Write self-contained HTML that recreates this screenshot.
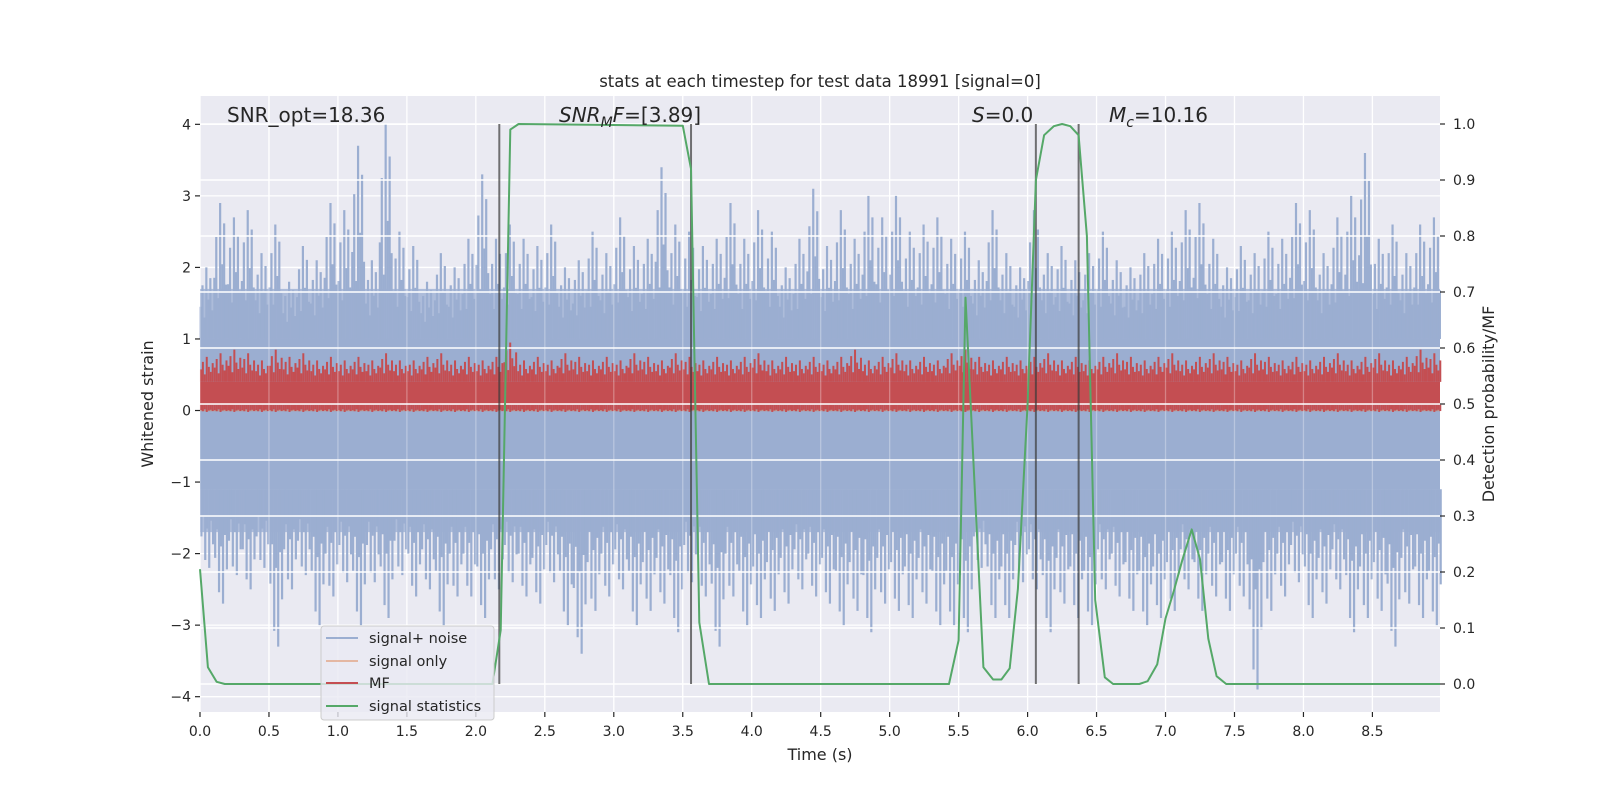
<!DOCTYPE html>
<html><head><meta charset="utf-8">
<style>
html,body{margin:0;padding:0;background:#fff;}
svg{display:block;font-family:"DejaVu Sans","Liberation Sans",sans-serif;}
</style></head>
<body>
<svg id="chart" width="1600" height="800" viewBox="0 0 1600 800" xmlns="http://www.w3.org/2000/svg">
  <rect x="0" y="0" width="1600" height="800" fill="#ffffff"/>
  <rect x="200" y="96" width="1240" height="616" fill="#eaeaf2"/>
  <g id="under"></g>
  <g id="marks"></g>
  <g id="over"></g>
  <g id="green"></g>
  <g id="axes"></g>
  <text x="820" y="87" text-anchor="middle" font-size="16.5" fill="#262626">stats at each timestep for test data 18991 [signal=0]</text>
  <text x="227" y="122" font-size="20" fill="#262626">SNR_opt=18.36</text>
  <text x="559" y="122" font-size="20" fill="#262626"><tspan font-style="italic">SNR</tspan><tspan font-style="italic" font-size="14" dy="5">M</tspan><tspan font-style="italic" dy="-5">F</tspan>=[3.89]</text>
  <text x="972" y="122" font-size="20" fill="#262626"><tspan font-style="italic">S</tspan>=0.0</text>
  <text x="1109" y="122" font-size="20" fill="#262626"><tspan font-style="italic">M</tspan><tspan font-style="italic" font-size="14" dy="5">c</tspan><tspan dy="-5">=10.16</tspan></text>
  <text x="820" y="760" text-anchor="middle" font-size="16" fill="#262626">Time (s)</text>
  <text x="0" y="0" transform="translate(153,404) rotate(-90)" text-anchor="middle" font-size="16" fill="#262626">Whitened strain</text>
  <text x="0" y="0" transform="translate(1494,404) rotate(-90)" text-anchor="middle" font-size="16" fill="#262626">Detection probability/MF</text>
  <g id="legend">
    <rect x="321" y="626" width="173" height="94" rx="3" fill="#eaeaf2" fill-opacity="0.8" stroke="#cccccc"/>
    <line x1="326" y1="638" x2="358" y2="638" stroke="#4c72b0" stroke-opacity="0.5" stroke-width="2"/>
    <text x="369" y="643" font-size="14.5" fill="#262626">signal+ noise</text>
    <line x1="326" y1="661" x2="358" y2="661" stroke="#dd8452" stroke-opacity="0.5" stroke-width="2"/>
    <text x="369" y="666" font-size="14.5" fill="#262626">signal only</text>
    <line x1="326" y1="683" x2="358" y2="683" stroke="#c44e52" stroke-width="2"/>
    <text x="369" y="688" font-size="14.5" fill="#262626">MF</text>
    <line x1="326" y1="706" x2="358" y2="706" stroke="#55a868" stroke-width="2"/>
    <text x="369" y="711" font-size="14.5" fill="#262626">signal statistics</text>
  </g>
</svg>
<script>
// ---- data ----
const binTimes = [0.0,0.1,0.2,0.3,0.4,0.5,0.6,0.7,0.8,0.9,1.0,1.1,1.2,1.3,1.4,1.5,1.6,1.7,1.8,1.9,2.0,2.1,2.2,2.3,2.4,2.5,2.6,2.7,2.8,2.9,3.0,3.1,3.2,3.3,3.4,3.5,3.6,3.7,3.8,3.9,4.0,4.1,4.2,4.3,4.4,4.5,4.6,4.7,4.8,4.9,5.0,5.1,5.2,5.3,5.4,5.5,5.6,5.7,5.8,5.9,6.0,6.1,6.2,6.3,6.4,6.5,6.6,6.7,6.8,6.9,7.0,7.1,7.2,7.3,7.4,7.5,7.6,7.7,7.8,7.9,8.0,8.1,8.2,8.3,8.4,8.5,8.6,8.7,8.8,8.9];
const noiseUpper = [2.0,2.9,2.7,2.8,2.2,2.6,1.8,2.3,2.1,2.9,2.8,3.7,2.1,4.0,2.5,2.3,1.8,2.2,2.0,2.4,3.3,2.4,2.6,2.4,2.3,2.6,2.0,2.1,2.5,2.2,2.7,2.3,2.4,3.4,2.6,2.5,2.3,2.4,2.9,2.4,2.8,2.5,2.0,2.4,3.1,2.3,2.8,2.4,3.0,2.7,3.0,2.5,2.6,2.7,2.4,2.5,2.1,2.8,2.2,2.0,2.8,2.2,2.3,2.1,2.2,2.5,2.1,2.0,2.2,2.4,2.5,2.8,2.9,2.4,2.0,2.3,2.2,2.5,2.4,2.9,2.8,2.2,2.7,3.0,3.6,2.4,2.6,2.2,2.6,2.7];
const noiseLower = [-2.2,-2.7,-2.3,-2.5,-2.2,-3.3,-2.5,-2.3,-3.0,-2.6,-2.4,-3.0,-2.4,-2.9,-2.3,-2.6,-2.5,-3.0,-2.6,-2.6,-2.9,-2.5,-2.4,-2.6,-2.7,-2.4,-3.0,-3.4,-2.8,-2.6,-2.5,-3.0,-2.8,-2.7,-3.1,-2.4,-2.6,-3.3,-2.6,-3.0,-2.9,-2.8,-2.7,-2.5,-2.6,-2.7,-3.0,-2.8,-3.1,-2.7,-2.8,-2.9,-2.7,-3.0,-3.0,-3.1,-2.2,-2.9,-2.9,-2.4,-2.5,-3.1,-2.7,-2.9,-3.0,-2.5,-2.6,-2.8,-3.0,-2.9,-2.8,-2.5,-2.8,-2.6,-2.8,-2.6,-3.9,-2.8,-2.6,-2.4,-2.9,-2.7,-2.5,-3.1,-2.9,-2.8,-3.3,-2.7,-2.9,-3.0];
const mfPeaks = [0.75,0.8,0.85,0.8,0.7,0.85,0.75,0.8,0.7,0.75,0.7,0.75,0.7,0.8,0.7,0.7,0.75,0.8,0.7,0.75,0.7,0.75,0.95,0.7,0.75,0.7,0.8,0.75,0.7,0.75,0.7,0.8,0.75,0.7,0.8,0.75,0.7,0.75,0.7,0.75,0.8,0.7,0.75,0.7,0.75,0.7,0.75,0.85,0.7,0.75,0.8,0.7,0.75,0.7,0.8,0.85,0.75,0.7,0.75,0.7,0.75,0.8,0.7,0.75,0.7,0.75,0.8,0.75,0.7,0.75,0.8,0.7,0.75,0.8,0.75,0.7,0.8,0.75,0.7,0.75,0.7,0.75,0.8,0.7,0.75,0.8,0.7,0.75,0.85,0.8];
const coreUpper = 1.0, coreLower = -1.1, midUpper = 1.7, midLower = -1.7;
const mfLow = 0.08, mfHigh = 0.4;
const statTimes = [0,0.057,0.12,0.18,2.12,2.18,2.25,2.31,3.5,3.56,3.62,3.69,5.43,5.5,5.55,5.68,5.75,5.81,5.87,5.93,6.0,6.06,6.12,6.19,6.25,6.31,6.37,6.43,6.49,6.56,6.62,6.81,6.87,6.94,7.0,7.06,7.12,7.19,7.25,7.31,7.37,7.44,8.99];
const statProb = [0.205,0.03,0.004,0.0,0.0,0.096,0.99,1.0,0.997,0.92,0.11,0.0,0.0,0.078,0.69,0.03,0.008,0.008,0.028,0.17,0.5,0.9,0.98,0.996,1.0,0.996,0.98,0.8,0.15,0.012,0.0,0.0,0.005,0.035,0.117,0.166,0.22,0.276,0.223,0.081,0.014,0.0,0.0];
const markerTimes = [2.17,3.56,6.06,6.37];
const xTicks = [0,0.5,1,1.5,2,2.5,3,3.5,4,4.5,5,5.5,6,6.5,7,7.5,8,8.5];
const xTickLabels = ["0.0","0.5","1.0","1.5","2.0","2.5","3.0","3.5","4.0","4.5","5.0","5.5","6.0","6.5","7.0","7.5","8.0","8.5"];
const yLeftTicks = [-4,-3,-2,-1,0,1,2,3,4];
const yLeftLabels = ["\u22124","\u22123","\u22122","\u22121","0","1","2","3","4"];
const yRightTicks = [0,0.1,0.2,0.3,0.4,0.5,0.6,0.7,0.8,0.9,1.0];
const yRightLabels = ["0.0","0.1","0.2","0.3","0.4","0.5","0.6","0.7","0.8","0.9","1.0"];

// ---- rendering style (texture pattern, not data) ----
const spikeOffsets = [0.0,0.014,0.028,0.042,0.057,0.071,0.085];
const spikeFracUp  = [0.45,0.75,0.3,1.0,0.55,0.85,0.4];
const spikeFracDn  = [0.6,0.35,0.9,0.5,1.0,0.4,0.7];
const mfFrac = [0.5,0.8,0.3,1.0,0.6,0.4,0.75];

// ---- scales ----
const X0=200, X1=1440, Y0=96, Y1=712;
const xMin=0, xMax=8.99;
const lMin=-4.214, lMax=4.396;
const rMin=-0.05, rMax=1.05;
const xs = t => X0 + (t-xMin)/(xMax-xMin)*(X1-X0);
const yl = v => Y1 - (v-lMin)/(lMax-lMin)*(Y1-Y0);
const yr = v => Y1 - (v-rMin)/(rMax-rMin)*(Y1-Y0);
const NS='http://www.w3.org/2000/svg';
function mk(tag, attrs, parent){const e=document.createElementNS(NS,tag);for(const k in attrs)e.setAttribute(k,attrs[k]);parent.appendChild(e);return e;}
const under=document.getElementById('under'), marks=document.getElementById('marks'), over=document.getElementById('over'), green=document.getElementById('green'), axes=document.getElementById('axes');

xTicks.forEach(t=>{const l=mk('line',{x1:xs(t),x2:xs(t),y1:Y0,y2:Y1,stroke:'#fff','stroke-width':1.3},under);

});
yLeftTicks.forEach(v=>{const l=mk('line',{x1:X0,x2:X1,y1:yl(v),y2:yl(v),stroke:'#fff','stroke-width':1.3},under);

});

const tEnd = xMax;
const mid = mk('rect',{x:xs(0),y:yl(midUpper),width:xs(tEnd)-xs(0),height:yl(midLower)-yl(midUpper),fill:'#adbcda'},marks);


const core = mk('rect',{x:xs(0),y:yl(coreUpper),width:xs(tEnd)-xs(0),height:yl(coreLower)-yl(coreUpper),fill:'#9baed1'},marks);


binTimes.forEach((t,i)=>{
  spikeOffsets.forEach((o,j)=>{
    const tx=t+o+0.004;
    const hu = coreUpper + (noiseUpper[i]-coreUpper)*spikeFracUp[j];
    const up=mk('line',{x1:xs(tx),x2:xs(tx),y1:yl(coreUpper),y2:yl(hu),stroke:'#9baed1','stroke-width':2.2},marks);
    
    
    const hd = coreLower + (noiseLower[i]-coreLower)*spikeFracDn[j];
    const dn=mk('line',{x1:xs(tx+0.006),x2:xs(tx+0.006),y1:yl(coreLower),y2:yl(hd),stroke:'#9baed1','stroke-width':2.2},marks);
    
    
  });
});
const so=mk('line',{x1:xs(0),x2:xs(tEnd),y1:yl(0),y2:yl(0),stroke:'#dd8452','stroke-opacity':0.5,'stroke-width':1.5},marks);


const mfb=mk('rect',{x:xs(0),y:yl(mfHigh),width:xs(tEnd)-xs(0),height:yl(mfLow)-yl(mfHigh),fill:'#c44e52'},marks);


binTimes.forEach((t,i)=>{
  spikeOffsets.forEach((o,j)=>{
    const tx=t+o+0.007;
    const top = mfHigh + (mfPeaks[i]-mfHigh)*mfFrac[j];
    const s=mk('line',{x1:xs(tx),x2:xs(tx),y1:yl(mfHigh),y2:yl(top),stroke:'#c44e52','stroke-width':2},marks);
    
    
    const d=mk('line',{x1:xs(tx),x2:xs(tx),y1:yl(mfLow),y2:yl(mfLow-0.05-0.05*mfFrac[j]),stroke:'#c44e52','stroke-width':2},marks);
    
    
  });
});

yRightTicks.forEach(v=>{const l=mk('line',{x1:X0,x2:X1,y1:yr(v),y2:yr(v),stroke:'#fff','stroke-width':1.5},over);

});
xTicks.forEach(t=>{const l=mk('line',{x1:xs(t),x2:xs(t),y1:Y0,y2:Y1,stroke:'#fff','stroke-width':1.3,'stroke-opacity':0.3},over);

});

markerTimes.forEach(t=>{const l=mk('line',{x1:xs(t),x2:xs(t),y1:yr(1),y2:yr(0),stroke:'#3a3a3a','stroke-opacity':0.7,'stroke-width':2},green);

});
const pts=statTimes.map((t,i)=>xs(t).toFixed(1)+','+yr(statProb[i]).toFixed(1)).join(' ');
const pl=mk('polyline',{points:pts,fill:'none',stroke:'#55a868','stroke-width':2,'stroke-linejoin':'round'},green);



xTicks.forEach((t,i)=>{
  const tk=mk('line',{x1:xs(t),x2:xs(t),y1:Y1,y2:Y1+5,stroke:'#262626','stroke-width':1.2},axes);
  
  
  const tx=mk('text',{x:xs(t),y:Y1+24,'text-anchor':'middle','font-size':14,fill:'#262626'},axes);
  tx.textContent=xTickLabels[i];
  
  
});
yLeftTicks.forEach((v,i)=>{
  const tk=mk('line',{x1:X0-5,x2:X0,y1:yl(v),y2:yl(v),stroke:'#262626','stroke-width':1.2},axes);
  
  
  const tx=mk('text',{x:X0-9,y:yl(v)+5,'text-anchor':'end','font-size':14,fill:'#262626'},axes);
  tx.textContent=yLeftLabels[i];
  
  
});
yRightTicks.forEach((v,i)=>{
  const tk=mk('line',{x1:X1,x2:X1+5,y1:yr(v),y2:yr(v),stroke:'#262626','stroke-width':1.2},axes);
  
  
  const tx=mk('text',{x:X1+13,y:yr(v)+5,'text-anchor':'start','font-size':14,fill:'#262626'},axes);
  tx.textContent=yRightLabels[i];
  
  
});
</script>
</body></html>
